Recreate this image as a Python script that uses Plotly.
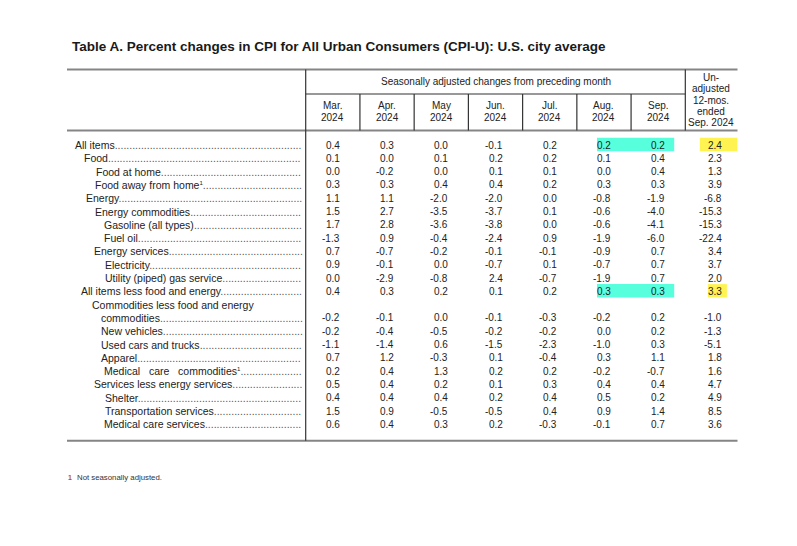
import re
import plotly.graph_objects as go

# ---------------- data ----------------
title_text = "Table A. Percent changes in CPI for All Urban Consumers (CPI-U): U.S. city average"
group_header = "Seasonally adjusted changes from preceding month"
month_labels = [["Mar.", "2024"], ["Apr.", "2024"], ["May", "2024"], ["Jun.", "2024"],
                ["Jul.", "2024"], ["Aug.", "2024"], ["Sep.", "2024"]]
unadj_header = ["Un-", "adjusted", "12-mos.", "ended", "Sep. 2024"]
footnote_mark = "1"
footnote_text = "Not seasonally adjusted."

row_labels = [
    "All items", "Food", "Food at home", "Food away from home<sup>1</sup>", "Energy",
    "Energy commodities", "Gasoline (all types)", "Fuel oil", "Energy services",
    "Electricity", "Utility (piped) gas service", "All items less food and energy",
    "Commodities less food and energy", "commodities", "New vehicles",
    "Used cars and trucks", "Apparel", "Medical\u00a0\u00a0 care\u00a0\u00a0 commodities<sup>1</sup>",
    "Services less energy services", "Shelter", "Transportation services",
    "Medical care services",
]

N = None
mar_2024 = [0.4, 0.1, 0.0, 0.3, 1.1, 1.5, 1.7, -1.3, 0.7, 0.9, 0.0, 0.4, N, -0.2, -0.2, -1.1, 0.7, 0.2, 0.5, 0.4, 1.5, 0.6]
apr_2024 = [0.3, 0.0, -0.2, 0.3, 1.1, 2.7, 2.8, 0.9, -0.7, -0.1, -2.9, 0.3, N, -0.1, -0.4, -1.4, 1.2, 0.4, 0.4, 0.4, 0.9, 0.4]
may_2024 = [0.0, 0.1, 0.0, 0.4, -2.0, -3.5, -3.6, -0.4, -0.2, 0.0, -0.8, 0.2, N, 0.0, -0.5, 0.6, -0.3, 1.3, 0.2, 0.4, -0.5, 0.3]
jun_2024 = [-0.1, 0.2, 0.1, 0.4, -2.0, -3.7, -3.8, -2.4, -0.1, -0.7, 2.4, 0.1, N, -0.1, -0.2, -1.5, 0.1, 0.2, 0.1, 0.2, -0.5, 0.2]
jul_2024 = [0.2, 0.2, 0.1, 0.2, 0.0, 0.1, 0.0, 0.9, -0.1, 0.1, -0.7, 0.2, N, -0.3, -0.2, -2.3, -0.4, 0.2, 0.3, 0.4, 0.4, -0.3]
aug_2024 = [0.2, 0.1, 0.0, 0.3, -0.8, -0.6, -0.6, -1.9, -0.9, -0.7, -1.9, 0.3, N, -0.2, 0.0, -1.0, 0.3, -0.2, 0.4, 0.5, 0.9, -0.1]
sep_2024 = [0.2, 0.4, 0.4, 0.3, -1.9, -4.0, -4.1, -6.0, 0.7, 0.7, 0.7, 0.3, N, 0.2, 0.2, 0.3, 1.1, -0.7, 0.4, 0.2, 1.4, 0.7]
unadj_12mo = [2.4, 2.3, 1.3, 3.9, -6.8, -15.3, -15.3, -22.4, 3.4, 3.7, 2.0, 3.3, N, -1.0, -1.3, -5.1, 1.8, 1.6, 4.7, 4.9, 8.5, 3.6]

highlight_cyan_rows = [0, 11]      # Aug/Sep highlighted
highlight_yellow_rows = [0, 11]    # 12-month highlighted

# ---------------- layout geometry (page pixel units) ----------------
W, H = 797, 546
PAGE_MARGIN = 8          # default body margin of the html page
TABLE_L, TABLE_R = 67, 737.5
STUB_R = 305.7
COL_W = 54.23
N_MONTH = 7
UNADJ_L = STUB_R + COL_W * N_MONTH
ROW0_Y, ROW_H = 145.0, 13.3
TOP_Y, SUB_Y, HEAD_BOT_Y, BOT_Y = 69.5, 94.0, 130.5, 440.7
DOTS_END = 302.5
indents = [74, 83, 95, 94, 85, 94, 103, 103, 93, 104, 104, 80,
           91, 100, 100, 100, 100, 103, 93, 104, 104, 103]

FONT = "Liberation Sans, Arial, sans-serif"
LABEL_SIZE = 10.5
TXT = "#222222"
GRID = "#333333"
RULE = "#858585"

# Arial / Liberation Sans advance widths (1/1000 em), used to size the dot leaders
_AW = dict(zip("abcdefghijklmnopqrstuvwxyz",
               [556, 556, 500, 556, 556, 278, 556, 556, 222, 222, 500, 222, 833,
                556, 556, 556, 556, 333, 500, 278, 556, 500, 722, 500, 500, 500]))
_AW.update(dict(zip("ABCDEFGHIJKLMNOPQRSTUVWXYZ",
                    [667, 667, 722, 722, 667, 611, 778, 722, 278, 500, 667, 556, 833,
                     722, 778, 667, 778, 722, 667, 611, 722, 667, 944, 667, 667, 611])))
_AW.update({" ": 278, "\u00a0": 278, "(": 333, ")": 333, ".": 278, "-": 333, "1": 556})


def label_width(txt, size):
    w = 0.0
    for part in re.split(r"(<sup>.*?</sup>)", txt):
        if part.startswith("<sup>"):
            inner = re.sub(r"<[^>]+>", "", part)
            w += sum(_AW.get(c, 556) for c in inner) * size * 0.6 / 1000
        else:
            w += sum(_AW.get(c, 556) for c in part) * size / 1000
    return w


def row_y(i):
    return ROW0_Y + ROW_H * i


def col_center(j):
    if j < N_MONTH:
        return STUB_R + COL_W * (j + 0.5)
    return (UNADJ_L + TABLE_R) / 2


columns = [mar_2024, apr_2024, may_2024, jun_2024, jul_2024, aug_2024, sep_2024, unadj_12mo]

fig = go.Figure()
fig.add_trace(go.Scatter(x=[PAGE_MARGIN, W - PAGE_MARGIN], y=[PAGE_MARGIN, H - PAGE_MARGIN],
                         mode="markers", marker=dict(opacity=0), hoverinfo="skip",
                         showlegend=False))

shapes = []
ann = []

# highlights
for r in highlight_cyan_rows:
    shapes.append(dict(type="rect", xref="x", yref="y", layer="below",
                       x0=col_center(5) - 7, x1=col_center(6) + 16,
                       y0=row_y(r) - 7.2, y1=row_y(r) + 6.2,
                       fillcolor="#58FFDC", line=dict(width=0)))
for k, r in enumerate(highlight_yellow_rows):
    half = 18.8 if k == 0 else 9.5
    cx = (UNADJ_L + TABLE_R) / 2 + (7.2 if k == 0 else 6)
    shapes.append(dict(type="rect", xref="x", yref="y", layer="below",
                       x0=cx - half, x1=cx + half,
                       y0=row_y(r) - 7.2, y1=row_y(r) + 6.2,
                       fillcolor="#FFF352", line=dict(width=0)))

# rules
for y, w in [(TOP_Y, 2), (HEAD_BOT_Y, 2), (BOT_Y, 2)]:
    shapes.append(dict(type="line", xref="x", yref="y", x0=TABLE_L, x1=TABLE_R,
                       y0=y, y1=y, line=dict(color=RULE, width=w)))
shapes.append(dict(type="line", xref="x", yref="y", x0=STUB_R, x1=STUB_R,
                   y0=TOP_Y, y1=BOT_Y, line=dict(color=GRID, width=1.2)))
shapes.append(dict(type="line", xref="x", yref="y", x0=STUB_R, x1=UNADJ_L,
                   y0=SUB_Y, y1=SUB_Y, line=dict(color=GRID, width=1.2)))
for k in range(1, N_MONTH):
    x = STUB_R + COL_W * k
    shapes.append(dict(type="line", xref="x", yref="y", x0=x, x1=x,
                       y0=SUB_Y, y1=HEAD_BOT_Y, line=dict(color=GRID, width=1.2)))
shapes.append(dict(type="line", xref="x", yref="y", x0=UNADJ_L, x1=UNADJ_L,
                   y0=TOP_Y, y1=HEAD_BOT_Y, line=dict(color=GRID, width=1.2)))

# title
ann.append(dict(x=70, y=46.5, xref="x", yref="y", xanchor="left", yanchor="middle",
                text="<b>" + title_text + "</b>", showarrow=False,
                font=dict(family=FONT, size=13.5, color="#1a1a1a")))

# headers
ann.append(dict(x=(STUB_R + UNADJ_L) / 2, y=81.5, xref="x", yref="y", showarrow=False,
                text=group_header, font=dict(family=FONT, size=10, color=TXT)))
for j, lines in enumerate(month_labels):
    for li, t in enumerate(lines):
        ann.append(dict(x=col_center(j), y=105.7 + 12 * li, xref="x", yref="y",
                        showarrow=False, text=t, font=dict(family=FONT, size=10, color=TXT)))
for li, t in enumerate(unadj_header):
    ann.append(dict(x=col_center(7), y=77.5 + 11.3 * li, xref="x", yref="y",
                    showarrow=False, text=t, font=dict(family=FONT, size=10, color=TXT)))

# row labels with dot leaders
dot_w = _AW["."] * LABEL_SIZE / 1000
for i, lab in enumerate(row_labels):
    has_vals = mar_2024[i] is not None
    shown = lab.replace("<sup>", "<sup><span style='font-size:6px'>").replace("</sup>", "</span></sup>")
    if has_vals:
        room = DOTS_END - indents[i] - label_width(lab, LABEL_SIZE)
        n_dots = max(int(room / dot_w), 0)
        shown += "<span style='color:#555555'>" + "." * n_dots + "</span>"
    ann.append(dict(x=indents[i], y=row_y(i), xref="x", yref="y", xanchor="left",
                    yanchor="middle", align="left", showarrow=False, text=shown,
                    borderpad=0, font=dict(family=FONT, size=LABEL_SIZE, color=TXT)))

# values
for j, col in enumerate(columns):
    off = 8 if j < N_MONTH else 12
    for i, v in enumerate(col):
        if v is None:
            continue
        ann.append(dict(x=col_center(j) + off, y=row_y(i), xref="x", yref="y",
                        xanchor="right", yanchor="middle", showarrow=False,
                        text=f"{v:.1f}", borderpad=0,
                        font=dict(family=FONT, size=10, color=TXT)))

# footnote
ann.append(dict(x=65.5, y=477.5, xref="x", yref="y", xanchor="left", showarrow=False,
                text="<b>" + footnote_mark + "</b>", font=dict(family=FONT, size=7, color="#b85a00")))
ann.append(dict(x=74.5, y=477.5, xref="x", yref="y", xanchor="left", showarrow=False,
                text=footnote_text, font=dict(family=FONT, size=7.8, color="#333333")))

fig.update_layout(
    width=W - 2 * PAGE_MARGIN, height=H - 2 * PAGE_MARGIN,
    margin=dict(l=0, r=0, t=0, b=0),
    paper_bgcolor="white", plot_bgcolor="white",
    xaxis=dict(range=[PAGE_MARGIN, W - PAGE_MARGIN], visible=False, fixedrange=True),
    yaxis=dict(range=[H - PAGE_MARGIN, PAGE_MARGIN], visible=False, fixedrange=True),
    shapes=shapes, annotations=ann, showlegend=False,
)

fig.write_html("out.html", config={"displayModeBar": False})
